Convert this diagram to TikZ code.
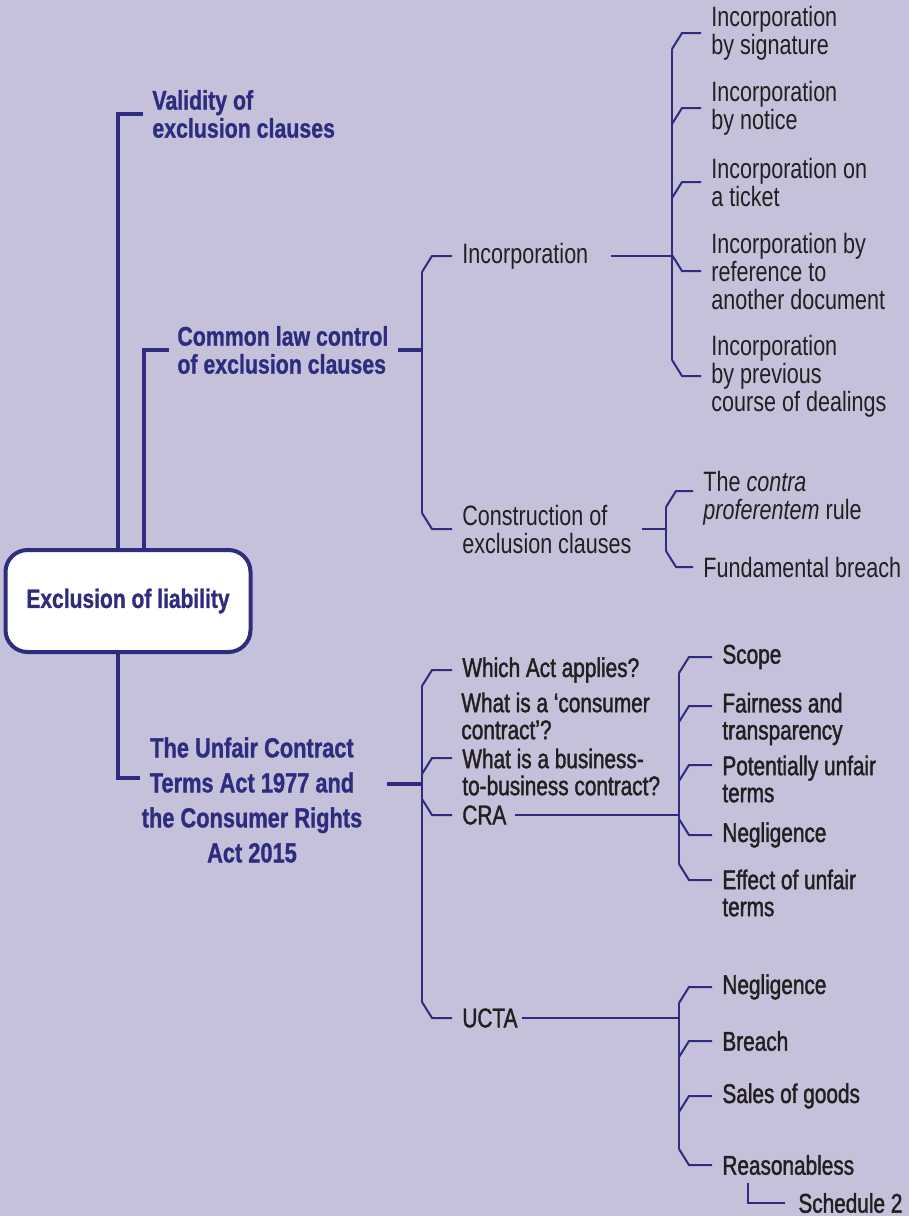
\documentclass[tikz,border=0pt]{standalone}
\usepackage{fontspec}
\setmainfont{Liberation Sans}[FakeStretch=0.77]
\newfontfamily\medfont{Liberation Sans}[FakeStretch=0.77,FakeBold=1.5]
\newfontfamily\headfont{Liberation Sans}[FakeStretch=0.79,BoldFeatures={FakeBold=1}]
\usetikzlibrary{calc}
\definecolor{bg_lilac}{HTML}{C5C1DA}
\definecolor{navy}{HTML}{2E2C7E}
\definecolor{ink}{HTML}{231F20}

% chamfered twig from a bar to a leaf: bar, leaf, y offset of branch, rise
\newcommand{\twig}[4]{%
  \draw[thin_line] let \p1=(#1), \p2=($(#2.west)+(-10,#3)$) in
    (\x1,\y2#4) -- (\x1+5pt,\y2) -- (\p2);}

\begin{document}
\begin{tikzpicture}[
    x=0.5pt, y=-0.5pt,
    root_box/.style={draw=navy, fill=white, line width=2pt, rounded corners=11pt,
        minimum width=122.5pt, minimum height=51pt, text=navy,
        font=\headfont\fontsize{13.3}{14}\selectfont\bfseries},
    head/.style={anchor=west, inner sep=0pt, align=left, text=navy,
        font=\headfont\fontsize{13.5}{14}\selectfont\bfseries},
    leaf/.style={anchor=west, inner sep=0pt, align=left, text=ink,
        font=\fontsize{14}{14}\selectfont},
    leaf_med/.style={leaf, font=\medfont\fontsize{13.5}{13.5}\selectfont},
    thick_line/.style={draw=navy, line width=2pt},
    thin_line/.style={draw=navy, line width=1pt}
]

\fill[bg_lilac] (0,0) rectangle (909,1216);
\useasboundingbox (0,0) rectangle (909,1216);

%% ============================================================
%% ROOT AND MAIN BRANCHES
%% ============================================================
\node[root_box] (root) at (128,601) {Exclusion of liability};

\node[head] (valid) at (152,114) {Validity of\\exclusion clauses};
\node[head] (common) at (177,350) {Common law control\\of exclusion clauses};
\node[head, anchor=center, align=center, font=\headfont\fontsize{13.8}{17.5}\selectfont\bfseries] (uhead) at (252,800) {
    The Unfair Contract\\Terms Act 1977 and\\the Consumer Rights\\Act 2015};

\draw[thick_line] ([xshift=-5.25pt]root.north) |- ([xshift=-4.5pt]valid.west);
\draw[thick_line] ([xshift=7.75pt]root.north) |- ([xshift=-4pt]common.west);
\draw[thick_line] ([xshift=-5.25pt]root.south) |- ($(uhead.west)+(-1,-22)$);

%% ============================================================
%% COMMON LAW CONTROL
%% ============================================================
\coordinate (cl_bar) at (422,350);
\draw[thick_line] ([xshift=4.5pt]common.east) -- (common.east -| cl_bar);

\node[leaf] (inc) at (462,256) {Incorporation};
\node[leaf] (constr) at (462,529) {Construction of\\exclusion clauses};
\draw[thin_line] ($(cl_bar |- inc.west)+(0,16)$) -- ($(cl_bar |- constr.west)+(0,-16)$);
\twig{cl_bar}{inc}{0}{-8pt}
\twig{cl_bar}{constr}{0}{+8pt}

%% --- Incorporation ---
\coordinate (inc_bar) at (672,256);
\draw[thin_line] ([xshift=11pt]inc.east) -- (inc.east -| inc_bar);
\foreach \leafname/\y/\t in {sig/33/{Incorporation\\by signature},
                      notice/108/{Incorporation\\by notice},
                      ticket/182/{Incorporation on\\a ticket},
                      ref/271/{Incorporation by\\reference to\\another document},
                      prev/376/{Incorporation\\by previous\\course of dealings}} {
    \node[leaf] (\leafname) at (711,\y) {\t};
}
\draw[thin_line] ($(inc_bar |- sig.west)+(0,16)$) -- ($(inc_bar |- prev.west)+(0,-16)$);
\foreach \leafname in {sig, notice, ticket} { \twig{inc_bar}{\leafname}{0}{-8pt} }
\foreach \leafname in {ref, prev} { \twig{inc_bar}{\leafname}{0}{+8pt} }

%% --- Construction ---
\coordinate (constr_bar) at (666,529);
\draw[thin_line] ([xshift=5pt]constr.east) -- (constr.east -| constr_bar);
\node[leaf] (contra) at (703,498) {The \textit{contra}\\\textit{proferentem} rule};
\node[leaf] (fund) at (703,567) {Fundamental breach};
\draw[thin_line] ($(constr_bar |- contra.west)+(0,9)$) -- ($(constr_bar |- fund.west)+(0,-16)$);
\twig{constr_bar}{contra}{-7}{-8pt}
\twig{constr_bar}{fund}{0}{+8pt}

%% ============================================================
%% UCTA 1977 AND CRA 2015
%% ============================================================
\coordinate (act_bar) at (422,784);
\draw[thick_line] ($(uhead.east)+(24,-16)$) -- (act_bar);

\node[leaf_med] (which) at (462,670) {Which Act applies?};
\node[leaf_med] (consumer) at (461,716) {What is a ‘consumer\\contract’?};
\node[leaf_med] (biz) at (462,772) {What is a business-\\to-business contract?};
\node[leaf_med] (cra) at (462,815) {CRA};
\node[leaf_med] (ucta) at (462,1018) {UCTA};
\draw[thin_line] ($(act_bar |- which.west)+(0,16)$) -- ($(act_bar |- ucta.west)+(0,-16)$);
\twig{act_bar}{which}{0}{-8pt}
\twig{act_bar}{biz}{-14}{-8pt}
\twig{act_bar}{cra}{0}{+8pt}
\twig{act_bar}{ucta}{0}{+8pt}

%% --- CRA ---
\coordinate (cra_bar) at (679,815);
\draw[thin_line] ([xshift=4pt]cra.east) -- (cra.east -| cra_bar);
\node[leaf_med] (scope) at (722,657) {Scope};
\node[leaf_med] (fair) at (722,719) {Fairness and\\transparency};
\node[leaf_med] (pot) at (722,779) {Potentially unfair\\terms};
\node[leaf_med] (negl) at (722,835) {Negligence};
\node[leaf_med] (effect) at (722,893) {Effect of unfair\\terms};
\draw[thin_line] ($(cra_bar |- scope.west)+(0,16)$) -- ($(cra_bar |- effect.west)+(0,-29)$);
\twig{cra_bar}{scope}{0}{-8pt}
\twig{cra_bar}{fair}{-13}{-8pt}
\twig{cra_bar}{pot}{-14}{-8pt}
\twig{cra_bar}{negl}{0}{+8pt}
\twig{cra_bar}{effect}{-13}{+8pt}

%% --- UCTA ---
\coordinate (ucta_bar) at (679,1018);
\draw[thin_line] ([xshift=2pt]ucta.east) -- (ucta.east -| ucta_bar);
\node[leaf_med] (neg2) at (722,987) {Negligence};
\node[leaf_med] (breach) at (722,1041) {Breach};
\node[leaf_med] (sales) at (722,1096) {Sales of goods};
\node[leaf_med] (reason) at (722,1165) {Reasonabless};
\draw[thin_line] ($(ucta_bar |- neg2.west)+(0,16)$) -- ($(ucta_bar |- reason.west)+(0,-16)$);
\foreach \leafname in {neg2, breach, sales} { \twig{ucta_bar}{\leafname}{0}{-8pt} }
\twig{ucta_bar}{reason}{0}{+8pt}

\node[leaf_med] (sched) at (798,1203) {Schedule 2};
\draw[thin_line] ([xshift=13pt, yshift=-4pt]reason.south west) |- ([xshift=-6.5pt]sched.west);

\end{tikzpicture}
\end{document}
